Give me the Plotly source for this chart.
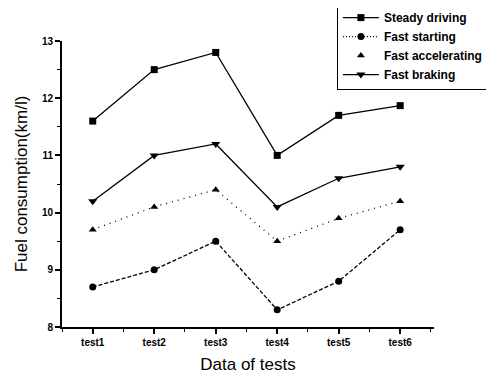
import plotly.graph_objects as go

categories = ["test1", "test2", "test3", "test4", "test5", "test6"]
steady_driving = [11.6, 12.5, 12.8, 11.0, 11.7, 11.87]
fast_starting = [8.7, 9.0, 9.5, 8.3, 8.8, 9.7]
fast_accelerating = [9.7, 10.1, 10.4, 9.5, 9.9, 10.2]
fast_braking = [10.2, 11.0, 11.2, 10.1, 10.6, 10.8]

xpos = list(range(len(categories)))
FONT = "Liberation Sans, Arial, sans-serif"

fig = go.Figure()

series = [
    ("Steady driving", steady_driving, "square", 7, "solid", "solid", "lines+markers"),
    ("Fast starting", fast_starting, "circle", 7, "4px,2px", "1px,2px", "lines+markers"),
    ("Fast accelerating", fast_accelerating, "triangle-up", 7, "1px,5px", "solid", "markers"),
    ("Fast braking", fast_braking, "triangle-down", 8, "solid", "solid", "lines+markers"),
]

for name, vals, sym, sz, dash, _, _ in series:
    fig.add_trace(go.Scatter(
        x=xpos, y=vals, mode="lines+markers", showlegend=False,
        line=dict(color="black", width=1.3, dash=dash),
        marker=dict(symbol=sym, size=sz, color="black"),
    ))

for name, vals, sym, sz, _, ldash, lmode in series:
    fig.add_trace(go.Scatter(
        x=[None], y=[None], mode=lmode, name=name,
        line=dict(color="black", width=1.3, dash=ldash),
        marker=dict(symbol=sym, size=sz, color="black"),
    ))

fig.update_layout(
    width=494, height=378,
    margin=dict(l=54, r=68, t=33, b=59, autoexpand=False),
    paper_bgcolor="white", plot_bgcolor="white",
    font=dict(family=FONT, color="black"),
    legend=dict(
        x=0.739, y=1.136, xanchor="left", yanchor="top",
        bordercolor="black", borderwidth=1,
        font=dict(size=12, family=FONT, weight="bold", color="black"),
        tracegroupgap=0, itemwidth=36,
    ),
    xaxis=dict(
        range=[-0.5, 5.55], tickmode="array", tickvals=xpos, ticktext=categories,
        showgrid=False, zeroline=False, showline=True, linecolor="black", linewidth=2,
        ticks="outside", ticklen=5, tickwidth=1.5, tickcolor="black",
        minor=dict(dtick=0.5, tick0=0, ticks="outside", ticklen=3, tickcolor="black", tickwidth=1),
        tickfont=dict(size=10, weight="bold", color="black"),
        title=dict(text="Data of tests", font=dict(size=17, color="black"), standoff=11),
        automargin=False,
    ),
    yaxis=dict(
        range=[8, 13], tickmode="linear", tick0=8, dtick=1,
        showgrid=False, zeroline=False, showline=True, linecolor="black", linewidth=2,
        ticks="outside", ticklen=5, tickwidth=1.5, tickcolor="black",
        minor=dict(dtick=0.5, ticks="outside", ticklen=3, tickcolor="black", tickwidth=1),
        tickfont=dict(size=10, weight="bold", color="black"),
        title=dict(text="Fuel consumption(km/l)", font=dict(size=17, color="black"), standoff=10),
        automargin=False,
    ),
)

fig.write_html("out.html")
